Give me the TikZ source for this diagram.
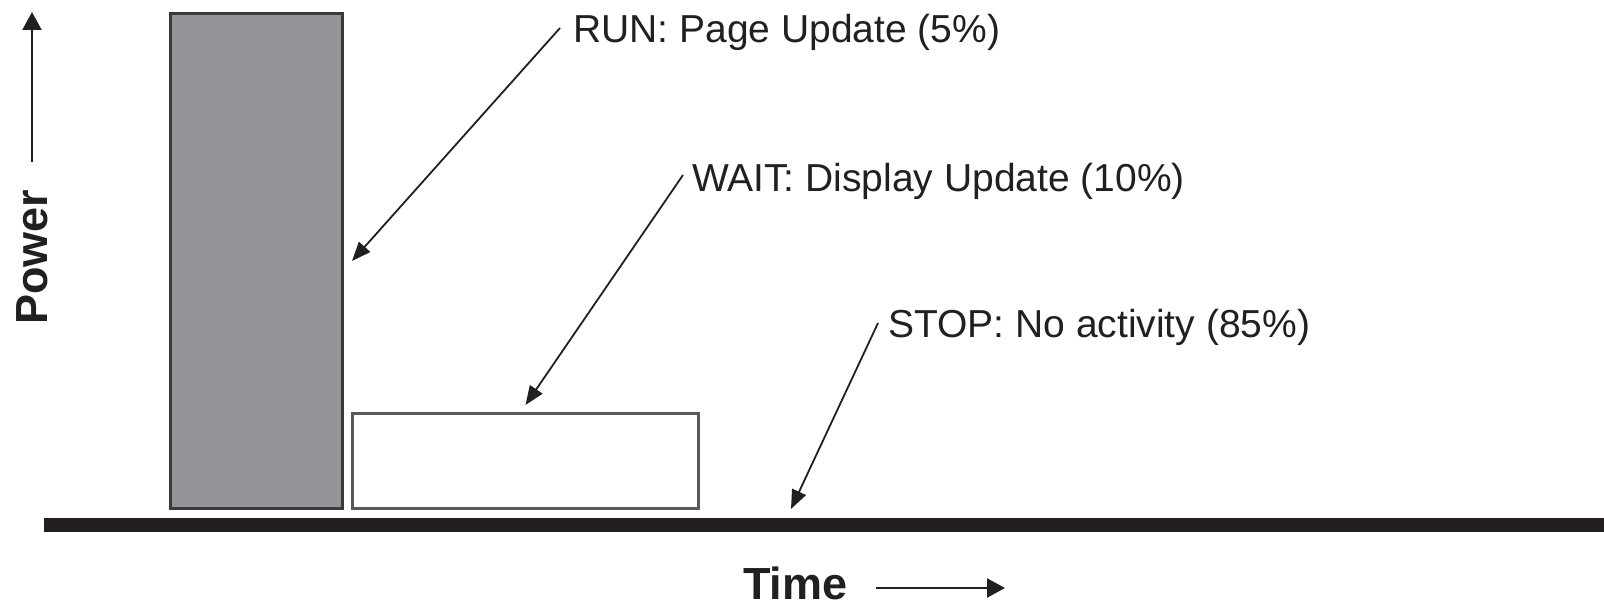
\documentclass[tikz,border=0pt]{standalone}
\usepackage{fontspec}
\setmainfont{Liberation Sans}
\usetikzlibrary{arrows.meta}
\definecolor{ink}{HTML}{231F20}
\definecolor{barfill}{HTML}{939598}
\definecolor{barline}{HTML}{3A3A3C}
\definecolor{boxline}{HTML}{58595B}
\begin{document}
\begin{tikzpicture}[x=1pt,y=1pt,
  statelabel/.style={anchor=base west, inner sep=0pt, text=ink,
    font=\fontsize{39}{44}\selectfont},
  axislabel/.style={anchor=base west, inner sep=0pt, text=ink,
    font=\fontsize{45}{50}\selectfont\bfseries},
  pointer/.style={draw=ink, line width=1.8pt,
    -{Triangle[length=19pt,width=15pt]}},
  axisarrow/.style={draw=ink, line width=2.4pt,
    -{Triangle[length=18pt,width=19pt]}},
  phase/.style={inner sep=0pt, anchor=south west, line width=3pt}]
\useasboundingbox (0,0) rectangle (1604,606);

% power bars for the three phases
\node[phase, draw=barline, fill=barfill,
      minimum width=172pt, minimum height=495pt] (runbar) at (169,96) {};
\node[phase, draw=boxline, fill=white,
      minimum width=346pt, minimum height=95pt] (waitbox) at (351,96) {};

% time axis baseline
\coordinate (t0) at (44,81);
\coordinate (t1) at (1604,81);
\draw[ink, line width=14pt] (t0) -- (t1);
\coordinate (stoptip) at (791,97);

% state labels and their pointers
\node[statelabel] (run) at (573,563) {RUN: Page Update (5\%)};
\node[statelabel] (wait) at (692,414) {WAIT: Display Update (10\%)};
\node[statelabel] (stop) at (888,269) {STOP: No activity (85\%)};

\draw[pointer] ([shift={(-13pt,15pt)}]run.base west) -- ([xshift=8pt]runbar.east);
\draw[pointer] ([shift={(-9pt,17pt)}]wait.base west) -- ([yshift=7pt]waitbox.north);
\draw[pointer] ([shift={(-10pt,14pt)}]stop.base west) -- (stoptip);

% axis captions
\node[axislabel] (time) at (743,7) {Time};
\coordinate (timeend) at (1005,18);
\draw[axisarrow] ([shift={(28pt,11pt)}]time.base east) -- (timeend);

\node[axislabel, rotate=90] (power) at (47,281) {Power};
\coordinate (powerend) at (32,594);
\draw[axisarrow] ([shift={(-15pt,28pt)}]power.base east) -- (powerend);
\end{tikzpicture}
\end{document}
